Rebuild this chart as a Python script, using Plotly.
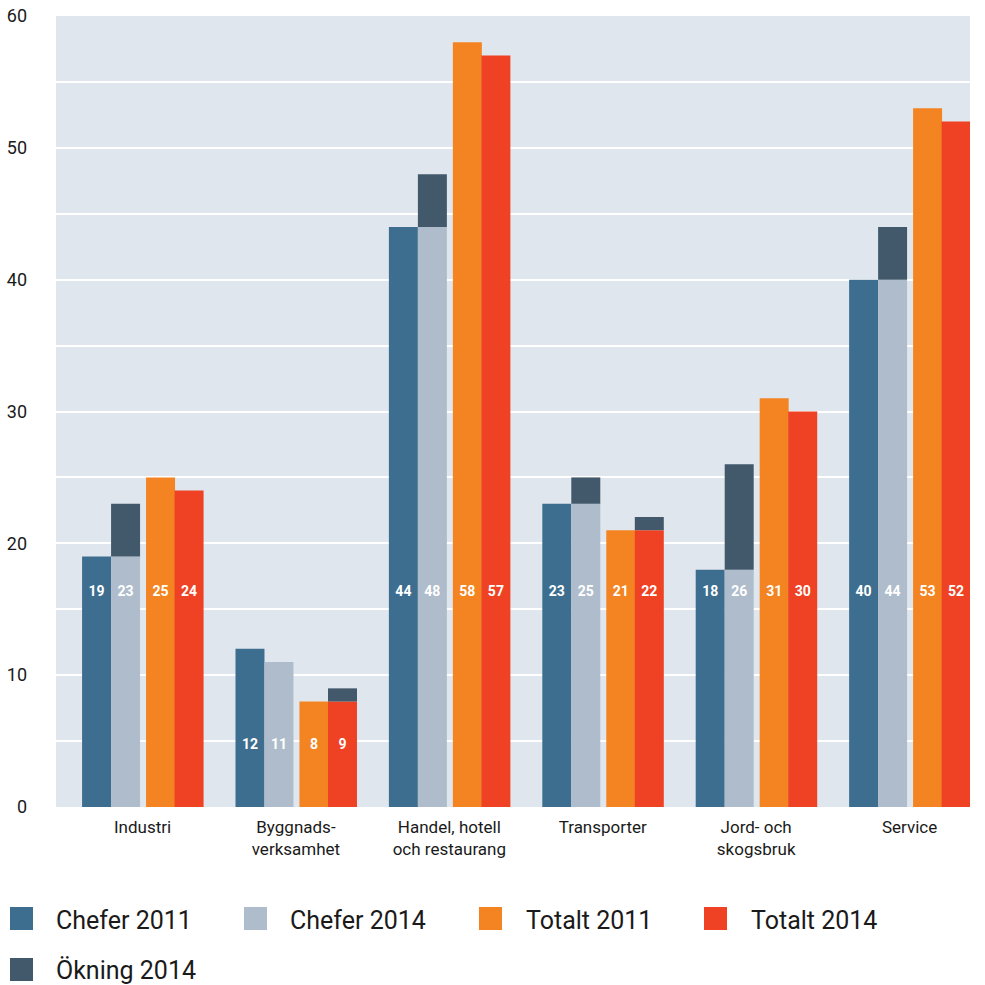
import plotly.graph_objects as go

categories = ["Industri", "Byggnads-<br>verksamhet", "Handel, hotell<br>och restaurang",
              "Transporter", "Jord- och<br>skogsbruk", "Service"]
chefer_2011 = [19, 12, 44, 23, 18, 40]
chefer_2014 = [23, 11, 48, 25, 26, 44]
totalt_2011 = [25, 8, 58, 21, 31, 53]
totalt_2014 = [24, 9, 57, 22, 30, 52]
label_y = [16.3, 4.7, 16.3, 16.3, 16.3, 16.3]

C_CH11 = "#3d6e8f"
C_CH14 = "#aebccb"
C_TO11 = "#f38421"
C_TO14 = "#ef4123"
C_OKN = "#41596b"

FONT = "Roboto"
W = 0.189
offs = [-0.394, -0.205, 0.023, 0.209]

x = list(range(len(categories)))
ch14_base = [min(a, b) for a, b in zip(chefer_2011, chefer_2014)]
ch14_inc = [max(0, b - a) for a, b in zip(chefer_2011, chefer_2014)]
to14_base = [min(a, b) for a, b in zip(totalt_2011, totalt_2014)]
to14_inc = [max(0, b - a) for a, b in zip(totalt_2011, totalt_2014)]

fig = go.Figure()

def bar(y, color, off, base=None):
    fig.add_trace(go.Bar(x=x, y=y, base=base, width=W, offset=off,
                         marker=dict(color=color, line=dict(width=0)),
                         showlegend=False, hoverinfo="skip"))

bar(chefer_2011, C_CH11, offs[0])
bar(ch14_base, C_CH14, offs[1])
bar(ch14_inc, C_OKN, offs[1], base=ch14_base)
bar(totalt_2011, C_TO11, offs[2])
bar(to14_base, C_TO14, offs[3])
bar(to14_inc, C_OKN, offs[3], base=to14_base)

# value labels
series_vals = [chefer_2011, chefer_2014, totalt_2011, totalt_2014]
for s, vals in enumerate(series_vals):
    fig.add_trace(go.Scatter(
        x=[i + offs[s] + W / 2 for i in x], y=label_y,
        mode="text", text=[str(v) for v in vals],
        textfont=dict(family=FONT, size=14, color="white", weight="bold"),
        showlegend=False, hoverinfo="skip"))

fig.update_layout(
    width=985, height=985,
    margin=dict(l=56, r=15, t=16, b=178),
    paper_bgcolor="white", plot_bgcolor="#e0e6ee",
    barmode="overlay",
    font=dict(family=FONT, color="#1a1a1a"),
    xaxis=dict(range=[-0.564, 5.394], tickvals=x, ticktext=categories,
               showgrid=False, zeroline=False, showline=False, automargin=False,
               tickfont=dict(size=17, color="#1a1a1a"), ticks="",
               ticklabelstandoff=8),
    yaxis=dict(range=[0, 60], tickvals=list(range(0, 61, 5)),
               ticktext=[str(v) if v % 10 == 0 else "" for v in range(0, 61, 5)],
               showgrid=True, gridcolor="white", gridwidth=1.5,
               zeroline=False, showline=False, ticks="", automargin=False,
               ticklabelstandoff=28,
               tickfont=dict(size=18, color="#1a1a1a")),
)

# manual legend
plot_l, plot_r, plot_t, plot_b = 56, 970, 16, 807
def px(xp):
    return (xp - plot_l) / (plot_r - plot_l)
def py(yp):
    return (plot_b - yp) / (plot_b - plot_t)

legend_items = [
    ("Chefer 2011", C_CH11, 10, 58, 907),
    ("Chefer 2014", C_CH14, 244, 292, 907),
    ("Totalt 2011", C_TO11, 479, 528, 907),
    ("Totalt 2014", C_TO14, 704, 753, 907),
    ("Ökning 2014", C_OKN, 10, 58, 958),
]
for name, color, sx, tx, sy in legend_items:
    fig.add_shape(type="rect", xref="paper", yref="paper",
                  x0=px(sx), x1=px(sx + 23), y0=py(sy), y1=py(sy + 23),
                  fillcolor=color, line=dict(width=0))
    fig.add_annotation(xref="paper", yref="paper", x=px(tx - 4), y=py(sy + 13),
                       text=name, showarrow=False, xanchor="left", yanchor="middle",
                       font=dict(family=FONT, size=25, color="#1a1a1a"))

fig.write_html("out.html")
